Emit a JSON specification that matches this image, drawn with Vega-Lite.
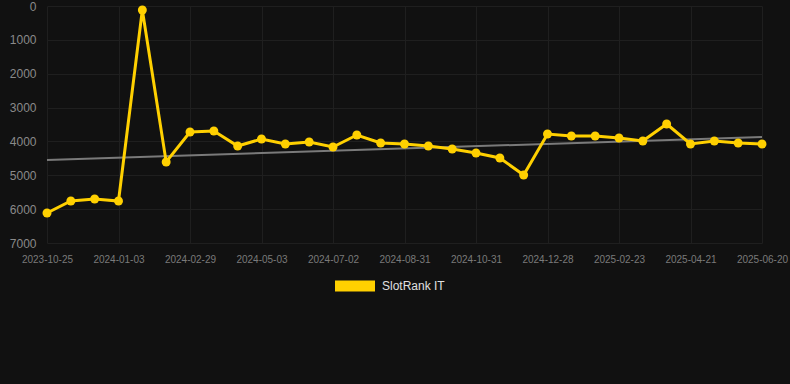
{
  "$schema": "https://vega.github.io/schema/vega-lite/v6.json",
  "autosize": {"type": "none"},
  "padding": {"left": 38, "top": 6, "right": 0, "bottom": 141},
  "width": 752,
  "height": 237,
  "background": "#111111",
  "config": {
    "view": {"stroke": null},
    "font": "Liberation Sans"
  },
  "datasets": {
    "rank": [
      {"date": "2023-10-25", "rank": 6113},
      {"date": "2023-11-17", "rank": 5760},
      {"date": "2023-12-10", "rank": 5700},
      {"date": "2024-01-03", "rank": 5760},
      {"date": "2024-01-22", "rank": 118},
      {"date": "2024-02-10", "rank": 4607},
      {"date": "2024-02-29", "rank": 3721},
      {"date": "2024-03-21", "rank": 3692},
      {"date": "2024-04-12", "rank": 4135},
      {"date": "2024-05-03", "rank": 3928},
      {"date": "2024-05-23", "rank": 4076},
      {"date": "2024-06-12", "rank": 4017},
      {"date": "2024-07-02", "rank": 4164},
      {"date": "2024-07-22", "rank": 3810},
      {"date": "2024-08-11", "rank": 4046},
      {"date": "2024-08-31", "rank": 4076},
      {"date": "2024-09-20", "rank": 4135},
      {"date": "2024-10-11", "rank": 4223},
      {"date": "2024-10-31", "rank": 4341},
      {"date": "2024-11-19", "rank": 4489},
      {"date": "2024-12-08", "rank": 4991},
      {"date": "2024-12-28", "rank": 3780},
      {"date": "2025-01-16", "rank": 3839},
      {"date": "2025-02-04", "rank": 3839},
      {"date": "2025-02-23", "rank": 3898},
      {"date": "2025-03-14", "rank": 3987},
      {"date": "2025-04-02", "rank": 3485},
      {"date": "2025-04-21", "rank": 4076},
      {"date": "2025-05-11", "rank": 3987},
      {"date": "2025-05-31", "rank": 4046},
      {"date": "2025-06-20", "rank": 4076}
    ],
    "trend": [
      {"date": "2023-10-25", "rank": 4548},
      {"date": "2025-06-20", "rank": 3869}
    ]
  },
  "encoding": {
    "x": {
      "field": "date",
      "type": "ordinal",
      "sort": "ascending",
      "scale": {"type": "point", "range": [9, 724], "padding": 0},
      "axis": {
        "title": null,
        "labelAngle": 0,
        "values": ["2023-10-25", "2024-01-03", "2024-02-29", "2024-05-03", "2024-07-02", "2024-08-31", "2024-10-31", "2024-12-28", "2025-02-23", "2025-04-21", "2025-06-20"],
        "labelFontSize": 10,
        "labelColor": "#7a7a7a",
        "labelPadding": 11,
        "ticks": false,
        "domain": false,
        "grid": true,
        "gridColor": "#1f1f1f",
        "gridWidth": 1
      }
    },
    "y": {
      "field": "rank",
      "type": "quantitative",
      "scale": {"domain": [0, 7000], "reverse": true, "nice": false},
      "axis": {
        "title": null,
        "format": "d",
        "values": [0, 1000, 2000, 3000, 4000, 5000, 6000, 7000],
        "labelFontSize": 12,
        "labelColor": "#8a8a8a",
        "labelPadding": 2,
        "ticks": false,
        "domain": false,
        "grid": true,
        "gridColor": "#1f1f1f",
        "gridWidth": 1
      }
    }
  },
  "layer": [
    {
      "data": {"name": "trend"},
      "mark": {"type": "line", "color": "#7a7a7a", "strokeWidth": 2}
    },
    {
      "data": {"name": "rank"},
      "mark": {"type": "line", "strokeWidth": 3},
      "encoding": {
        "color": {
          "datum": "SlotRank IT",
          "scale": {"range": ["#FFD000"]},
          "legend": {
            "title": null,
            "orient": "none",
            "legendX": 297,
            "legendY": 260,
            "symbolType": "M-1,-0.275L1,-0.275L1,0.275L-1,0.275Z",
            "symbolSize": 1600,
            "symbolFillColor": "#FFD000",
            "symbolStrokeWidth": 0,
            "labelColor": "#e0e0e0",
            "labelFontSize": 12,
            "labelOffset": 7
          }
        }
      }
    },
    {
      "data": {"name": "rank"},
      "mark": {"type": "point", "filled": true, "size": 80, "opacity": 1},
      "encoding": {
        "color": {"datum": "SlotRank IT"}
      }
    }
  ]
}
